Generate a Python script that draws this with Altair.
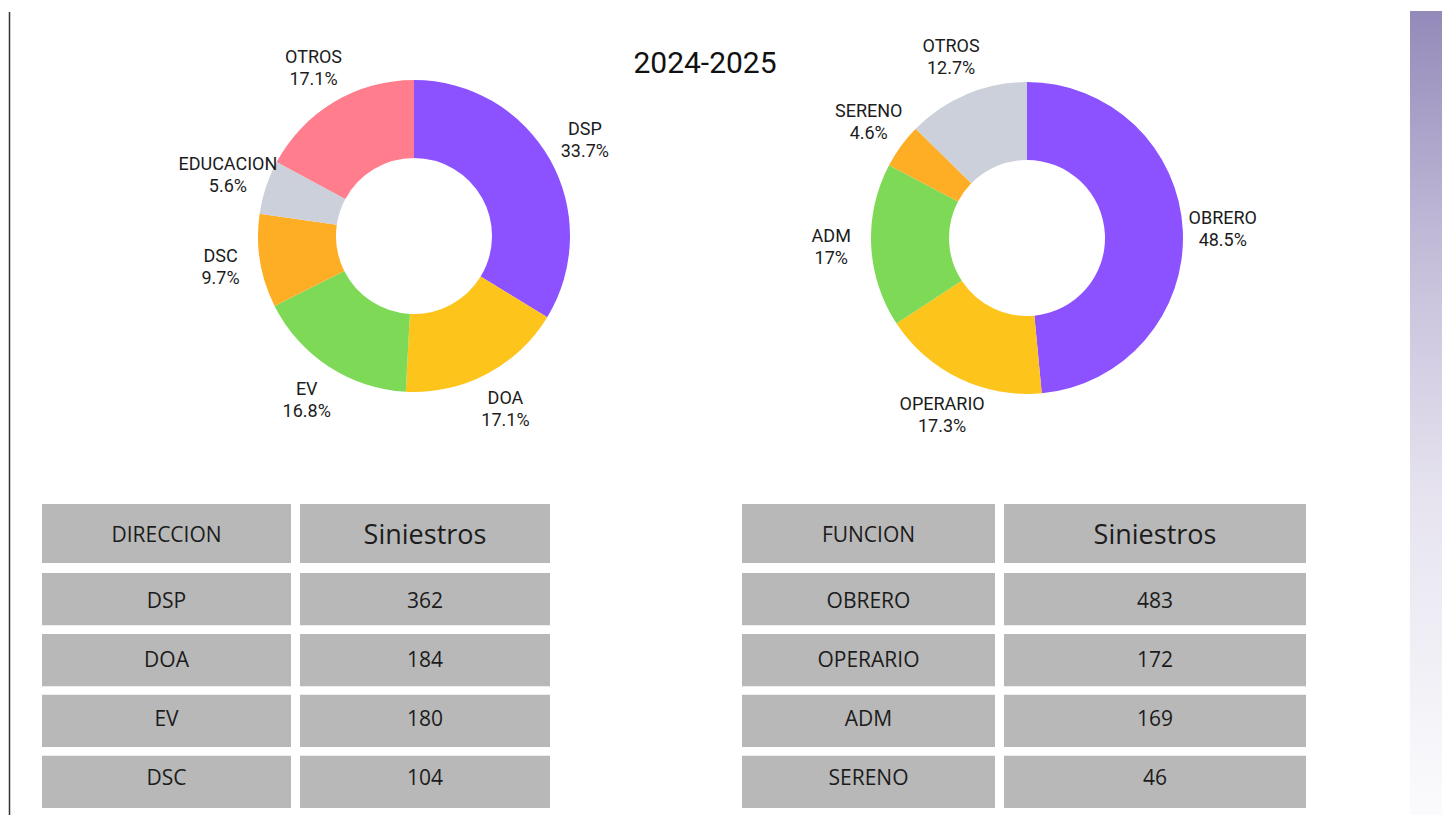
import altair as alt
import pandas as pd

# ---------------- data ----------------
title_text = ["2024-2025"]

dir_cats = ["DSP", "DOA", "EV", "DSC", "EDUCACION", "OTROS"]
dir_vals = [362, 184, 180, 104, 60, 184]
dir_colors = ["#8c52ff", "#fdc41c", "#7ed957", "#fdae25", "#cbd0da", "#ff7d8d"]

fun_cats = ["OBRERO", "OPERARIO", "ADM", "SERENO", "OTROS"]
fun_vals = [483, 172, 169, 46, 126]
fun_colors = ["#8c52ff", "#fdc41c", "#7ed957", "#fdae25", "#cbd0da"]

dir_header = ["DIRECCION", "Siniestros"]
dir_rows = ["DSP", "DOA", "EV", "DSC"]
dir_counts = [362, 184, 180, 104]

fun_header = ["FUNCION", "Siniestros"]
fun_rows = ["OBRERO", "OPERARIO", "ADM", "SERENO"]
fun_counts = [483, 172, 169, 46]

LABEL_FONT = "Roboto"
TABLE_FONT = "Open Sans"
CELL = "#b8b8b8"
INK = "#1c1c1c"


def pie(cats, vals, colors, cx, cy):
    df = pd.DataFrame({"cat": cats, "value": vals, "idx": list(range(len(cats)))})
    base = alt.Chart(df).transform_joinaggregate(
        total="sum(value)"
    ).transform_calculate(
        label="datum.cat + '\\n' + format(datum.value / datum.total, '.1~%')"
    )
    enc = dict(
        theta=alt.Theta("value:Q", stack=True),
        order=alt.Order("idx:Q"),
        x=alt.value(cx),
        y=alt.value(cy),
    )
    arcs = base.mark_arc(radius=156, innerRadius=78).encode(
        color=alt.Color("cat:N", scale=alt.Scale(domain=cats, range=colors), legend=None),
        **enc,
    )
    labels = base.mark_text(
        radius=196, lineBreak="\n", lineHeight=22, font=LABEL_FONT, fontSize=18,
        color=INK, align="center", baseline="middle", dy=-10,
    ).encode(text="label:N", **enc)
    return [arcs, labels]


def table(header, names, counts, col_ranges):
    layers = []
    body_cols = [names, [str(c) for c in counts]]
    for j, (l, r) in enumerate(col_ranges):
        xs = alt.X("k:N", scale=alt.Scale(domain=["c"], range=[l, r], paddingInner=0, paddingOuter=0), axis=None)
        # header cell
        hdf = pd.DataFrame({"k": ["c"], "text": [header[j]]})
        hy = alt.Y("k:N", scale=alt.Scale(domain=["c"], range=[504, 563], paddingInner=0, paddingOuter=0), axis=None)
        layers.append(alt.Chart(hdf).mark_rect(color=CELL).encode(x=xs, y=hy))
        layers.append(
            alt.Chart(hdf).mark_text(
                font=TABLE_FONT, fontSize=27 if j == 1 else 21, color=INK,
                align="center", baseline="middle", dy=2,
            ).encode(x=xs, y=hy, text="text:N")
        )
        # body cells
        bdf = pd.DataFrame({"k": ["c"] * len(names), "row": list(range(len(names))), "text": body_cols[j]})
        by = alt.Y("row:O", scale=alt.Scale(domain=list(range(len(names))), range=[573, 808],
                                            paddingInner=0.14, paddingOuter=0), axis=None)
        layers.append(alt.Chart(bdf).mark_rect(color=CELL).encode(x=xs, y=by))
        layers.append(
            alt.Chart(bdf).mark_text(
                font=TABLE_FONT, fontSize=21, color=INK, align="center", baseline="middle",
            ).encode(x=xs, y=by, text="text:N")
        )
    return layers


one = pd.DataFrame({"t": title_text})

deco_line = alt.Chart(one).mark_rule(color="#333333", strokeWidth=1.5).encode(
    x=alt.value(9.5), y=alt.value(12), y2=alt.value(815)
)
gradient_bar = alt.Chart(one).mark_rect(
    fill=alt.Gradient(
        gradient="linear", x1=0, y1=0, x2=0, y2=1,
        stops=[
            alt.GradientStop(color="#948aba", offset=0),
            alt.GradientStop(color="#c4bdd9", offset=0.3),
            alt.GradientStop(color="#e6e3ef", offset=0.6),
            alt.GradientStop(color="#fbfbfd", offset=1),
        ],
    )
).encode(x=alt.value(1410), x2=alt.value(1442), y=alt.value(11), y2=alt.value(815))

title = alt.Chart(one).mark_text(
    font=LABEL_FONT, fontSize=30, color="#111111", align="center", baseline="middle"
).encode(x=alt.value(705), y=alt.value(64), text="t:N")

layers = [deco_line, gradient_bar, title]
layers += pie(dir_cats, dir_vals, dir_colors, 414, 236)
layers += pie(fun_cats, fun_vals, fun_colors, 1027, 238)
layers += table(dir_header, dir_rows, dir_counts, [(42, 291), (300, 550)])
layers += table(fun_header, fun_rows, fun_counts, [(742, 995), (1004, 1306)])

chart = alt.layer(*layers).resolve_scale(
    x="independent", y="independent", theta="independent", color="independent"
).properties(
    width=1442, height=815, padding=0, autosize="none", background="white"
).configure_view(strokeWidth=0)

chart.save("out.html", embed_options={"renderer": "svg", "actions": False})
